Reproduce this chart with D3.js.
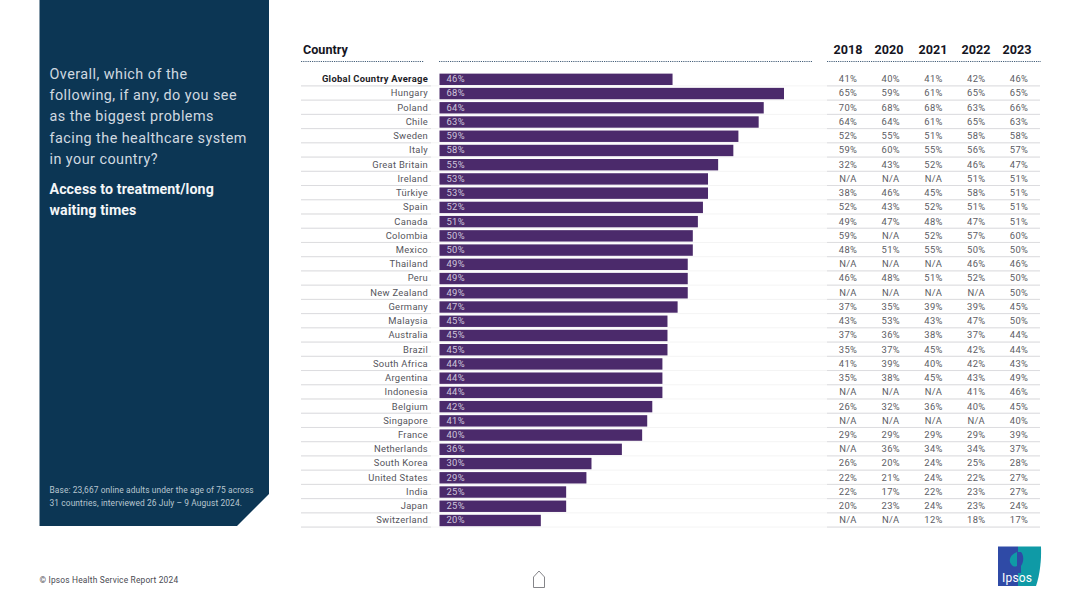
<!DOCTYPE html>
<html>
<head>
  <meta charset="utf-8">
  <script src="https://d3js.org/d3.v7.min.js"></script>
  <style>
    html, body { margin: 0; padding: 0; background: #fff; }
    svg { display: block; }
    text { font-family: Roboto, sans-serif; }
  </style>
</head>
<body>
<script>
var countries = ["Global Country Average", "Hungary", "Poland", "Chile", "Sweden", "Italy", "Great Britain", "Ireland",
  "Türkiye", "Spain", "Canada", "Colombia", "Mexico", "Thailand", "Peru", "New Zealand", "Germany", "Malaysia",
  "Australia", "Brazil", "South Africa", "Argentina", "Indonesia", "Belgium", "Singapore", "France", "Netherlands",
  "South Korea", "United States", "India", "Japan", "Switzerland"];
var current = [46, 68, 64, 63, 59, 58, 55, 53, 53, 52, 51, 50, 50, 49, 49, 49, 47, 45, 45, 45, 44, 44, 44, 42, 41, 40, 36, 30, 29, 25, 25, 20];
var years = ["2018", "2020", "2021", "2022", "2023"];
var y2018 = [41, 65, 70, 64, 52, 59, 32, null, 38, 52, 49, 59, 48, null, 46, null, 37, 43, 37, 35, 41, 35, null, 26, null, 29, null, 26, 22, 22, 20, null];
var y2020 = [40, 59, 68, 64, 55, 60, 43, null, 46, 43, 47, null, 51, null, 48, null, 35, 53, 36, 37, 39, 38, null, 32, null, 29, 36, 20, 21, 17, 23, null];
var y2021 = [41, 61, 68, 61, 51, 55, 52, null, 45, 52, 48, 52, 55, null, 51, null, 39, 43, 38, 45, 40, 45, null, 36, null, 29, 34, 24, 24, 22, 24, 12];
var y2022 = [42, 65, 63, 65, 58, 56, 46, 51, 58, 51, 47, 57, 50, 46, 52, null, 39, 47, 37, 42, 42, 43, 41, 40, null, 29, 34, 25, 22, 23, 23, 18];
var y2023 = [46, 65, 66, 63, 58, 57, 47, 51, 51, 51, 51, 60, 50, 46, 50, 50, 45, 50, 44, 44, 43, 49, 46, 45, 40, 39, 37, 28, 27, 27, 24, 17];
var yearValues = [y2018, y2020, y2021, y2022, y2023];
var questionLines = ["Overall, which of the", "following, if any, do you see", "as the biggest problems", "facing the healthcare system", "in your country?"];
var topicLines = ["Access to treatment/long", "waiting times"];
var baseLines = ["Base: 23,667 online adults under the age of 75 across", "31 countries, interviewed 26 July – 9 August 2024."];

var svg = d3.select("body").append("svg").attr("width", 1080).attr("height", 607);

// side panel
svg.append("path")
  .attr("d", "M39.5,0H269V494L237,526H39.5Z")
  .attr("fill", "#0c3654");

svg.selectAll(".question").data(questionLines).enter().append("text")
  .attr("x", 49.5)
  .attr("y", function(d, i) { return 79 + i * 21.2; })
  .attr("font-size", 14.4)
  .attr("letter-spacing", 0.45)
  .attr("fill", "#d0d9e0")
  .text(function(d) { return d; });

svg.selectAll(".topic").data(topicLines).enter().append("text")
  .attr("x", 49.5)
  .attr("y", function(d, i) { return 193.5 + i * 21.2; })
  .attr("font-size", 14.2)
  .attr("font-weight", 700)
  .attr("letter-spacing", 0.1)
  .attr("fill", "#f4f6f8")
  .text(function(d) { return d; });

svg.selectAll(".base").data(baseLines).enter().append("text")
  .attr("x", 49.5)
  .attr("y", function(d, i) { return 493 + i * 13; })
  .attr("font-size", 8.4)
  .attr("letter-spacing", 0.1)
  .attr("fill", "#b9c6d0")
  .text(function(d) { return d; });

// scales
var y = d3.scaleBand().domain(countries).range([72.2, 527.6]).paddingInner(0.2).paddingOuter(0.1);
var x = d3.scaleLinear().domain([0, 68]).range([439.5, 784]);
var col = d3.scalePoint().domain(years).range([848, 1019]);
var headCol = { "2018": 848, "2020": 889, "2021": 933, "2022": 976, "2023": 1017 };

// headers
svg.append("text").attr("x", 303).attr("y", 54)
  .attr("font-size", 12.6).attr("font-weight", 700).attr("fill", "#15151f").text("Country");

svg.selectAll(".year").data(years).enter().append("text")
  .attr("x", function(d) { return headCol[d]; })
  .attr("y", 54)
  .attr("text-anchor", "middle")
  .attr("font-size", 12.6)
  .attr("font-weight", 700)
  .attr("fill", "#15151f")
  .text(function(d) { return d; });

[[301, 424], [439, 812], [827, 1041]].forEach(function(s) {
  svg.append("line")
    .attr("x1", s[0]).attr("x2", s[1]).attr("y1", 61.5).attr("y2", 61.5)
    .attr("stroke", "#46607a").attr("stroke-width", 1.2).attr("stroke-dasharray", "1.2 1");
});

// row separators
var rows = svg.selectAll(".row").data(countries).enter().append("g")
  .attr("transform", function(d) { return "translate(0," + (y(d) + y.bandwidth() + 0.4) + ")"; });
rows.append("line").attr("x1", 301).attr("x2", 1040).attr("y1", 0.5).attr("y2", 0.5)
  .attr("stroke", "#f4f4f4");
rows.append("line").attr("x1", 301).attr("x2", 431).attr("y1", 0.5).attr("y2", 0.5)
  .attr("stroke", "#dcdcdf");
rows.append("line").attr("x1", 827).attr("x2", 1040).attr("y1", 0.5).attr("y2", 0.5)
  .attr("stroke", "#dcdcdf");

// bars
svg.selectAll(".bar").data(countries).enter().append("rect")
  .attr("x", x(0))
  .attr("y", function(d) { return y(d); })
  .attr("width", function(d, i) { return x(current[i]) - x(0); })
  .attr("height", y.bandwidth())
  .attr("fill", "#4b2a6b");

var mid = function(d) { return y(d) + y.bandwidth() / 2 + 2.9; };

svg.selectAll(".barlabel").data(countries).enter().append("text")
  .attr("x", 446.5)
  .attr("y", mid)
  .attr("font-size", 9.4)
  .attr("letter-spacing", 0.3)
  .attr("fill", "#cfc6dc")
  .text(function(d, i) { return current[i] + "%"; });

svg.selectAll(".country").data(countries).enter().append("text")
  .attr("x", 428)
  .attr("y", mid)
  .attr("text-anchor", "end")
  .attr("font-size", 9.4)
  .attr("letter-spacing", 0.3)
  .attr("font-weight", function(d, i) { return i === 0 ? 700 : 400; })
  .attr("fill", function(d, i) { return i === 0 ? "#1c1c26" : "#55555c"; })
  .text(function(d) { return d; });

// yearly table
years.forEach(function(yr, j) {
  svg.selectAll(".c" + yr).data(countries).enter().append("text")
    .attr("x", col(yr))
    .attr("y", mid)
    .attr("text-anchor", "middle")
    .attr("font-size", 9.4)
    .attr("letter-spacing", 0.3)
    .attr("fill", "#5c5c63")
    .text(function(d, i) { return yearValues[j][i] === null ? "N/A" : yearValues[j][i] + "%"; });
});

// footer
svg.append("text").attr("x", 39.5).attr("y", 583)
  .attr("font-size", 8.4).attr("letter-spacing", 0.18).attr("fill", "#4a4a52")
  .text("© Ipsos Health Service Report 2024");

svg.append("path")
  .attr("d", "M533.5,587.5V577L539,571L544.5,577V587.5Z")
  .attr("fill", "none").attr("stroke", "#77777c").attr("stroke-width", 0.9);

// logo
svg.append("path").attr("d", "M998,546.5H1018V586H998Z").attr("fill", "#2f4aa6");
svg.append("path").attr("d", "M1018,546.5H1041C1041.5,560 1040,574 1036,586H1018Z").attr("fill", "#0f9aa6");
svg.append("path").attr("d", "M1017,552C1011,554 1008,560 1011,564C1013,567 1015,567 1017,566Z").attr("fill", "#0f9aa6");
svg.append("path").attr("d", "M1017,552H1021C1024,555 1024,562 1021,566V573H1017Z").attr("fill", "#2f4aa6");
svg.append("text").attr("x", 1002).attr("y", 582)
  .attr("font-size", 12).attr("font-weight", 400).attr("letter-spacing", 0.2).attr("fill", "#ffffff").text("Ipsos");
</script>
</body>
</html>
